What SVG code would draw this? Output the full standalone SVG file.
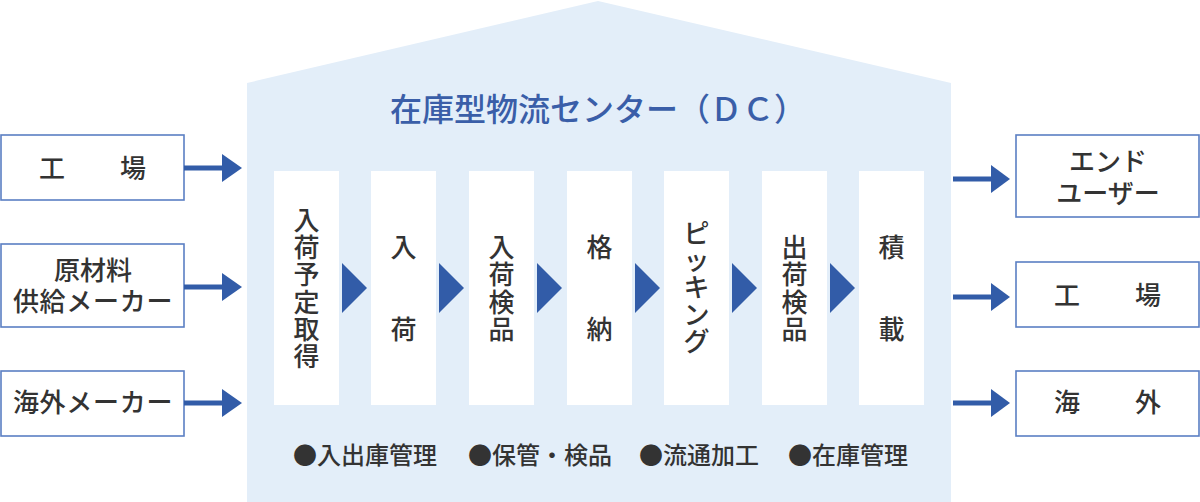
<svg xmlns="http://www.w3.org/2000/svg" width="1200" height="502" viewBox="0 0 1200 502">
<style>
.box{fill:#fff;stroke:#5b7fc3;stroke-width:1.6}
.col{fill:#fff}
.t{font-family:"Noto Sans CJK JP","Noto Sans CJK SC",sans-serif;fill:#333;font-size:26px;font-weight:500}
.c{text-anchor:middle}
.b{font-family:"Noto Sans CJK JP","Noto Sans CJK SC",sans-serif;fill:#333;font-size:24px;font-weight:500}
.ttl{font-family:"Noto Sans CJK JP","Noto Sans CJK SC",sans-serif;fill:#3a5ea8;font-size:32px;font-weight:500;text-anchor:middle}
.ar{fill:#325ca8}
.ln{stroke:#325ca8;stroke-width:5}
</style>
<g id="house">
<path d="M247,83 L598,1 L951,83 L951,502 L247,502 Z" fill="#e3eef9"/>
<text class="ttl" x="598" y="121">在庫型物流センター（ＤＣ）</text>
</g>
<g id="src-factory"><rect class="box" x="1" y="135" width="183" height="65"/><text class="t c" x="93" y="178" letter-spacing="1">工　　場</text></g>
<g id="src-material"><rect class="box" x="1" y="244" width="183" height="83"/><text class="t c" x="93" y="280">原材料</text><text class="t c" x="93" y="311" letter-spacing="0.7">供給メーカー</text></g>
<g id="src-overseas"><rect class="box" x="1" y="371" width="183" height="65"/><text class="t c" x="93" y="412" letter-spacing="0.7">海外メーカー</text></g>
<g id="dst-enduser"><rect class="box" x="1016" y="135" width="183" height="82"/><text class="t c" x="1108" y="171">エンド</text><text class="t c" x="1108" y="203">ユーザー</text></g>
<g id="dst-factory"><rect class="box" x="1016" y="262" width="183" height="65"/><text class="t c" x="1108" y="305" letter-spacing="1">工　　場</text></g>
<g id="dst-overseas"><rect class="box" x="1016" y="371" width="183" height="65"/><text class="t c" x="1108" y="412" letter-spacing="1">海　　外</text></g>
<g id="step1"><rect class="col" x="274" y="171" width="65" height="234"/><text class="t c"><tspan x="306.5" y="230">入</tspan><tspan x="306.5" y="257.2">荷</tspan><tspan x="306.5" y="284.4">予</tspan><tspan x="306.5" y="311.6">定</tspan><tspan x="306.5" y="338.8">取</tspan><tspan x="306.5" y="366">得</tspan></text></g>
<g id="step2"><rect class="col" x="371" y="171" width="65" height="234"/><text class="t c"><tspan x="403.5" y="257">入</tspan><tspan x="403.5" y="339">荷</tspan></text></g>
<g id="step3"><rect class="col" x="469" y="171" width="65" height="234"/><text class="t c"><tspan x="501.5" y="257">入</tspan><tspan x="501.5" y="284.3">荷</tspan><tspan x="501.5" y="311.6">検</tspan><tspan x="501.5" y="339">品</tspan></text></g>
<g id="step4"><rect class="col" x="567" y="171" width="65" height="234"/><text class="t c"><tspan x="599.5" y="257">格</tspan><tspan x="599.5" y="339">納</tspan></text></g>
<g id="step5"><rect class="col" x="664" y="171" width="65" height="234"/><text class="t c"><tspan x="696.5" y="243">ピ</tspan><tspan x="696.5" y="270">ッ</tspan><tspan x="696.5" y="297">キ</tspan><tspan x="696.5" y="324">ン</tspan><tspan x="696.5" y="351">グ</tspan></text></g>
<g id="step6"><rect class="col" x="762" y="171" width="65" height="234"/><text class="t c"><tspan x="794.5" y="257">出</tspan><tspan x="794.5" y="284.3">荷</tspan><tspan x="794.5" y="311.6">検</tspan><tspan x="794.5" y="339">品</tspan></text></g>
<g id="step7"><rect class="col" x="859" y="171" width="65" height="234"/><text class="t c"><tspan x="891.5" y="257">積</tspan><tspan x="891.5" y="339">載</tspan></text></g>
<g id="features">
<text class="b" x="293" y="464">●入出庫管理</text>
<text class="b" x="468" y="464">●保管・検品</text>
<text class="b" x="639" y="464">●流通加工</text>
<text class="b" x="788" y="464">●在庫管理</text>
</g>
<g id="connectors">
<path class="ar" d="M342,263 L367,288 L342,313 Z"/>
<path class="ar" d="M439,263 L464,288 L439,313 Z"/>
<path class="ar" d="M537,263 L562,288 L537,313 Z"/>
<path class="ar" d="M635,263 L660,288 L635,313 Z"/>
<path class="ar" d="M732,263 L757,288 L732,313 Z"/>
<path class="ar" d="M830,263 L855,288 L830,313 Z"/>
<line class="ln" x1="184" y1="168" x2="224" y2="168"/><path class="ar" d="M222,154 L242,168 L222,182 Z"/>
<line class="ln" x1="184" y1="287" x2="224" y2="287"/><path class="ar" d="M222,273 L242,287 L222,301 Z"/>
<line class="ln" x1="184" y1="403" x2="224" y2="403"/><path class="ar" d="M222,389 L242,403 L222,417 Z"/>
<line class="ln" x1="953" y1="179" x2="993" y2="179"/><path class="ar" d="M991,165 L1010,179 L991,193 Z"/>
<line class="ln" x1="953" y1="297" x2="993" y2="297"/><path class="ar" d="M991,283 L1010,297 L991,311 Z"/>
<line class="ln" x1="953" y1="403" x2="993" y2="403"/><path class="ar" d="M991,389 L1010,403 L991,417 Z"/>
</g>
</svg>
